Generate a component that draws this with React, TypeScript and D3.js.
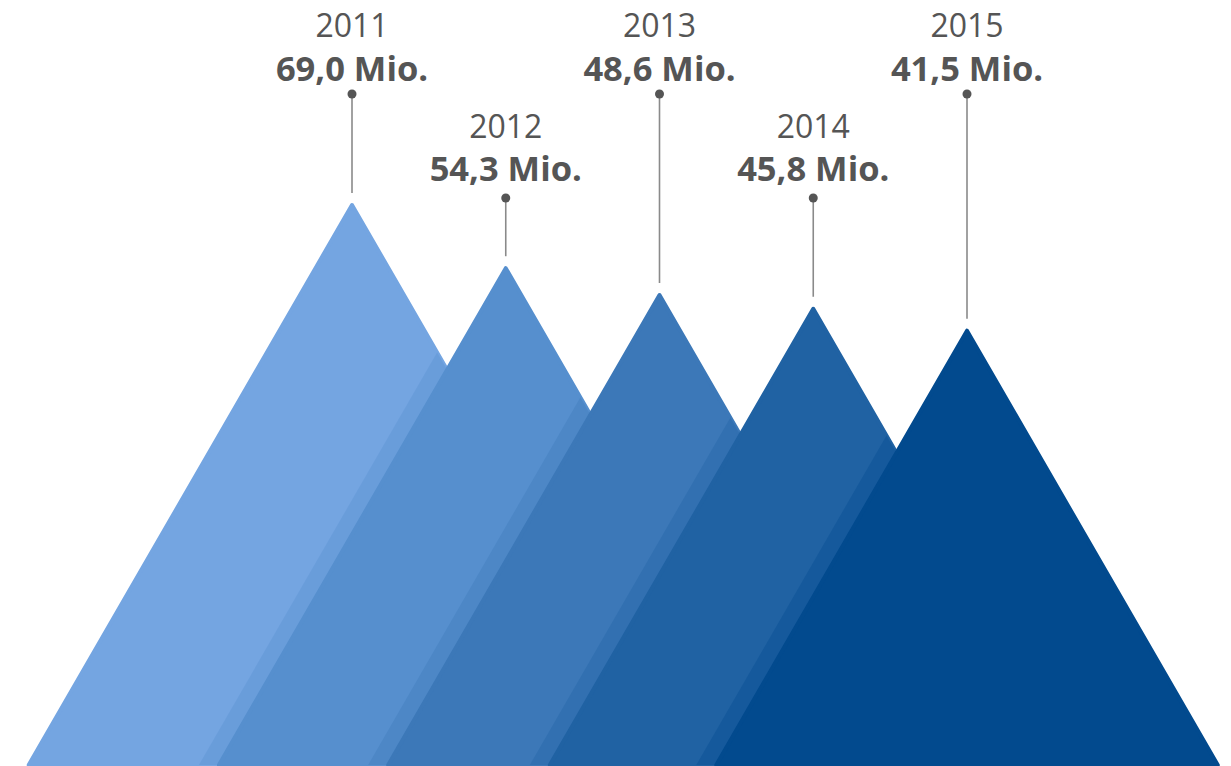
import React from "react";
import * as d3 from "d3";

const years = ["2011", "2012", "2013", "2014", "2015"];
const values = [69.0, 54.3, 48.6, 45.8, 41.5];
const valueLabels = ["69,0 Mio.", "54,3 Mio.", "48,6 Mio.", "45,8 Mio.", "41,5 Mio."];
const colors = ["#74a5e1", "#568fce", "#3c78b8", "#2062a3", "#024a8e"];

const W = 1231;
const H = 766;
const BASE = 765;
const TAN30 = Math.tan(Math.PI / 6);

export default function App() {
  const x = d3.scalePoint<string>().domain(years).range([352, 967]);
  const h = d3.scaleSqrt().domain([0, 69.0]).range([0, 560]);

  const tri = values.map((v, i) => {
    const cx = x(years[i]) as number;
    const top = BASE - h(v);
    const half = (BASE - top) * TAN30;
    return { cx, top, l: cx - half, r: cx + half };
  });

  const line = d3.line<[number, number]>();
  const font = "'Open Sans', sans-serif";

  return (
    <svg width={W} height={H} style={{ position: "absolute", left: 0, top: 0, background: "#fff" }}>
      <defs>
        {tri.map((t, i) => (
          <clipPath id={`clip${i}`} key={i}>
            <path d={line([[t.cx, t.top], [t.r, BASE], [t.l, BASE]]) + "Z"} />
          </clipPath>
        ))}
      </defs>
      {tri.map((t, i) => (
        <g key={i}>
          {i > 0 && (
            <path
              clipPath={`url(#clip${i - 1})`}
              d={line([[t.cx, t.top], [t.l, BASE], [t.l - 20, BASE], [t.cx - 20, t.top]]) + "Z"}
              fill={colors[i]}
              opacity={0.35}
            />
          )}
          <path
            d={line([[t.cx, t.top], [t.r, BASE], [t.l, BASE]]) + "Z"}
            fill={colors[i]}
            stroke={colors[i]}
            strokeWidth={4}
            strokeLinejoin="round"
          />
        </g>
      ))}
      {tri.map((t, i) => {
        const lower = i % 2 === 1;
        const yearY = 37 + (lower ? 101 : 0);
        const valY = 81 + (lower ? 100 : 0);
        const dotY = 94 + (lower ? 104 : 0);
        return (
          <g key={"l" + i}>
            <line x1={t.cx} x2={t.cx} y1={dotY} y2={t.top - 12} stroke="#8a8a8a" strokeWidth={1.6} />
            <circle cx={t.cx} cy={dotY} r={4.5} fill="#555" />
            <text x={t.cx} y={yearY} textAnchor="middle" fontFamily={font} fontSize={32} fill="#555">
              {years[i]}
            </text>
            <text x={t.cx} y={valY} textAnchor="middle" fontFamily={font} fontSize={34.5} fontWeight="bold" fill="#555">
              {valueLabels[i]}
            </text>
          </g>
        );
      })}
    </svg>
  );
}
